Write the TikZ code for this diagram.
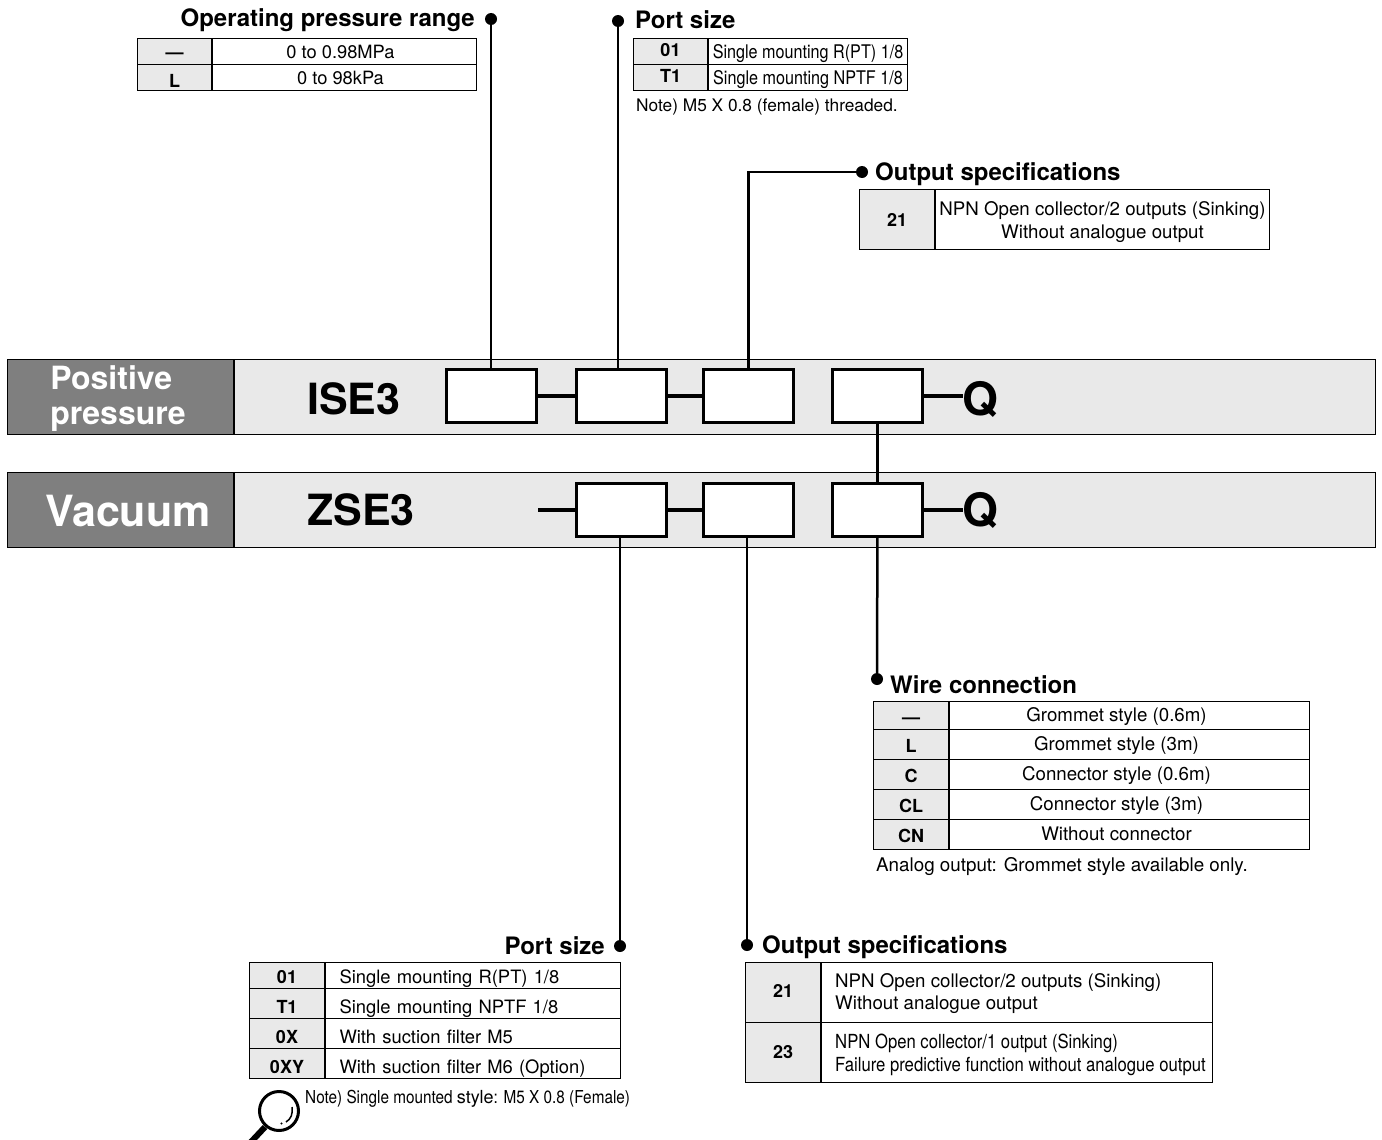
\documentclass[tikz,border=0pt]{standalone}
\usepackage{fontspec}
\setmainfont{TeX Gyre Heros}
\newfontfamily\narrowfont[FakeStretch=0.86]{TeX Gyre Heros}
\usepackage{tikz}
\definecolor{barlight}{HTML}{E9E9E9}
\definecolor{bardark}{HTML}{7F7F7F}
\tikzset{
  codecell/.style={rectangle, draw=black, line width=1pt, fill=barlight, anchor=north west, inner sep=0pt, minimum width=75pt, font=\fontsize{18}{20}\selectfont\bfseries},
  desccell/.style={rectangle, draw=black, line width=1pt, fill=white, anchor=north west, inner sep=0pt, align=center, font=\fontsize{18.7}{23}\selectfont},
  oneline/.style={text height=#1, text depth=0pt},
  oneline/.default=14pt,
  title/.style={anchor=base west, inner sep=0pt, font=\fontsize{24}{26}\selectfont\bfseries},
  notetext/.style={anchor=base west, inner sep=0pt, font=\fontsize{17.3}{20}\selectfont},
  bigtext/.style={inner sep=0pt, font=\fontsize{43}{45}\selectfont\bfseries},
  slot/.style={rectangle, draw=black, line width=3pt, fill=white, inner sep=0pt, minimum width=90pt, minimum height=53pt},
  dot/.style={circle, fill=black, inner sep=0pt, minimum size=12pt},
  wire/.style={line width=2.5pt},
  link/.style={line width=3.6pt}
}
\begin{document}
\begin{tikzpicture}[x=1pt, y=-1pt]
    \useasboundingbox (0,0) rectangle (1382,1140);

    % Barras de modelo
    \node[rectangle, draw=black, line width=1pt, fill=barlight, inner sep=0pt, minimum width=1141pt, minimum height=75pt, anchor=north west] (barPos) at (234,359) {};
    \node[rectangle, draw=black, line width=1pt, fill=bardark, inner sep=0pt, minimum width=226pt, minimum height=75pt, anchor=north east] (barPosHead) at (barPos.north west) {};
    \node[rectangle, draw=black, line width=1pt, fill=barlight, inner sep=0pt, minimum width=1141pt, minimum height=75pt, anchor=north west] (barVac) at (234,472) {};
    \node[rectangle, draw=black, line width=1pt, fill=bardark, inner sep=0pt, minimum width=226pt, minimum height=75pt, anchor=north east] (barVacHead) at (barVac.north west) {};
    \node[inner sep=0pt, align=left, text=white, font=\fontsize{32}{35}\selectfont\bfseries] (posLabel) at (118,399) {Positive\\pressure};
    \node[bigtext, text=white] (vacLabel) at (128,511) {Vacuum};
    \node[bigtext, anchor=base west] (iseLabel) at (307,414) {ISE3};
    \node[bigtext, anchor=base west] (zseLabel) at (307,525) {ZSE3};

    % Casillas
    \foreach \name/\xx in {A/491.5, B/621.5, C/748.5, D/877.5} {
        \node[slot] (top\name) at (\xx,396) {};
    }
    \foreach \name/\xx in {B/621.5, C/748.5, D/877.5} {
        \node[slot] (low\name) at (\xx,510) {};
    }
    \node[bigtext, font=\fontsize{46}{48}\selectfont\bfseries, anchor=base west] (topQ) at (962.5,415) {Q};
    \node[bigtext, font=\fontsize{46}{48}\selectfont\bfseries, anchor=base west] (lowQ) at (962.5,526) {Q};
    \coordinate (lowStart) at (538,510);

    % Guiones entre casillas
    \draw[link] (topA) -- (topB);
    \draw[link] (topB) -- (topC);
    \draw[link] (topD.east) -- (topD.east -| topQ.west);
    \draw[link] (lowStart) -- (lowB);
    \draw[link] (lowB) -- (lowC);
    \draw[link] (lowD.east) -- (lowD.east -| lowQ.west);
    \draw[wire] (topD) -- (lowD);

    % Operating pressure range
    \node[title, anchor=base east] (opTitle) at (475,27) {Operating pressure range};
    \node[dot] (opDot) at (491,19) {};
    \foreach \name/\top/\hgt/\code/\desc in {a/38/14/---/{0 to 0.98MPa}, b/64/20/L/{0 to 98kPa}} {
        \node[codecell, oneline=\hgt pt, minimum width=74pt, minimum height=26pt] (op\name) at (137,\top) {\code};
        \node[desccell, oneline, minimum width=264pt, minimum height=26pt, font=\fontsize{18.3}{22}\selectfont] (op\name d) at (op\name.north east) {\desc\hspace*{8pt}};
    }
    \draw[wire] (opDot) -- (opDot |- topA.north);

    % Port size (arriba)
    \node[title] (portTitle) at (635,29) {Port size};
    \node[dot] (portDot) at (618,21) {};
    \foreach \name/\top/\code/\desc in {a/38/01/{Single mounting R(PT) 1/8}, b/64/T1/{Single mounting NPTF 1/8}} {
        \node[codecell, oneline=10pt, minimum width=74pt, minimum height=26pt] (port\name) at (633,\top) {\code};
        \node[desccell, oneline, minimum width=199pt, minimum height=26pt, font=\fontsize{18.8}{20}\narrowfont] (port\name d) at (port\name.north east) {\desc};
    }
    \node[notetext] (portNote) at (636,111) {Note) M5 X 0.8 (female) threaded.};
    \draw[wire] (portDot) -- (portDot |- topB.north);

    % Output specifications (arriba)
    \node[title] (outTitle) at (875,180) {Output specifications};
    \node[dot] (outDot) at (862,172) {};
    \node[codecell, minimum height=60pt] (outa) at (859,189) {21};
    \node[desccell, minimum width=334pt, minimum height=60pt] (outad) at (outa.north east) {\rule{0pt}{20pt}NPN Open collector/2 outputs (Sinking)\\Without analogue output};
    \draw[wire] (outDot) -| (topC.north);

    % Wire connection
    \node[title] (wireTitle) at (890,693) {Wire connection};
    \node[dot] (wireDot) at (877,679) {};
    \foreach \name/\top/\hh/\code/\desc in {a/701/28/---/{Grommet style (0.6m)}, b/729/30/L/{Grommet style (3m)}, c/759/30/C/{Connector style (0.6m)}, d/789/30/CL/{Connector style (3m)}, e/819/30/CN/{Without connector}} {
        \node[codecell, oneline=16pt, minimum height=\hh pt] (wire\name) at (873,\top) {\code};
        \node[desccell, oneline=12pt, minimum width=360pt, minimum height=\hh pt] (wire\name d) at (wire\name.north east) {\desc\hspace*{26pt}};
    }
    \node[notetext, font=\fontsize{18.8}{20}\selectfont] (wireNote) at (876,871) {Analog output: Grommet style available only.};
    \draw[wire] (lowD) -- (wireDot);

    % Port size (abajo)
    \node[title, anchor=base east] (vacPortTitle) at (605,954) {Port size};
    \node[dot] (vacPortDot) at (620,946) {};
    \foreach \name/\top/\hh/\hgt/\code/\desc in {a/962/26/16/01/{Single mounting R(PT) 1/8}, b/988/30/20/T1/{Single mounting NPTF 1/8}, c/1018/30/20/0X/{With suction filter M5}, d/1048/30/20/0XY/{With suction filter M6 (Option)}} {
        \node[codecell, oneline=\hgt pt, minimum height=\hh pt] (vacPort\name) at (249,\top) {\code};
        \node[desccell, oneline=\hgt pt, minimum width=295pt, minimum height=\hh pt, text width=267pt, align=left, font=\fontsize{18.4}{20}\selectfont] (vacPort\name d) at (vacPort\name.north east) {\desc};
    }
    \node[notetext, font=\fontsize{17.8}{20}\narrowfont] (vacPortNote) at (305,1103) {Note) Single mounted {\fontsize{18}{20}\selectfont\normalfont style}: M5 X 0.8 (Female)};
    \draw[wire] (vacPortDot) -- (vacPortDot |- lowB.south);

    % Lupa
    \draw[line width=3pt] (279,1111) circle (19.5);
    \draw[line width=6pt] (265,1127) -- (250,1143);
    \draw[line width=1.5pt] (292,1107) .. controls (293,1114) and (291,1119) .. (286,1122);
    \fill (281.5,1123.5) circle (1.2);

    % Output specifications (abajo)
    \node[title] (vacOutTitle) at (762,953) {Output specifications};
    \node[dot] (vacOutDot) at (747,945) {};
    \node[codecell, oneline=9pt, minimum height=60pt] (vacOuta) at (745,962) {21};
    \node[desccell, minimum width=391pt, minimum height=60pt] (vacOutad) at (vacOuta.north east) {};
    \node[anchor=west, inner sep=0pt, align=left, font=\fontsize{18.7}{22}\selectfont] (vacOutaText) at (835,994) {NPN Open collector/2 outputs (Sinking)\\Without analogue output};
    \node[codecell, oneline=11pt, minimum height=60pt] (vacOutb) at (745,1022) {23};
    \node[desccell, minimum width=391pt, minimum height=60pt] (vacOutbd) at (vacOutb.north east) {};
    \node[anchor=west, inner sep=0pt, align=left, font=\fontsize{19.4}{23}\narrowfont] (vacOutbText) at (835,1054.5) {NPN Open collector/1 output (Sinking)\\Failure predictive function without analogue output};
    \draw[wire] (vacOutDot) -- (vacOutDot |- lowC.south);

\end{tikzpicture}
\end{document}
